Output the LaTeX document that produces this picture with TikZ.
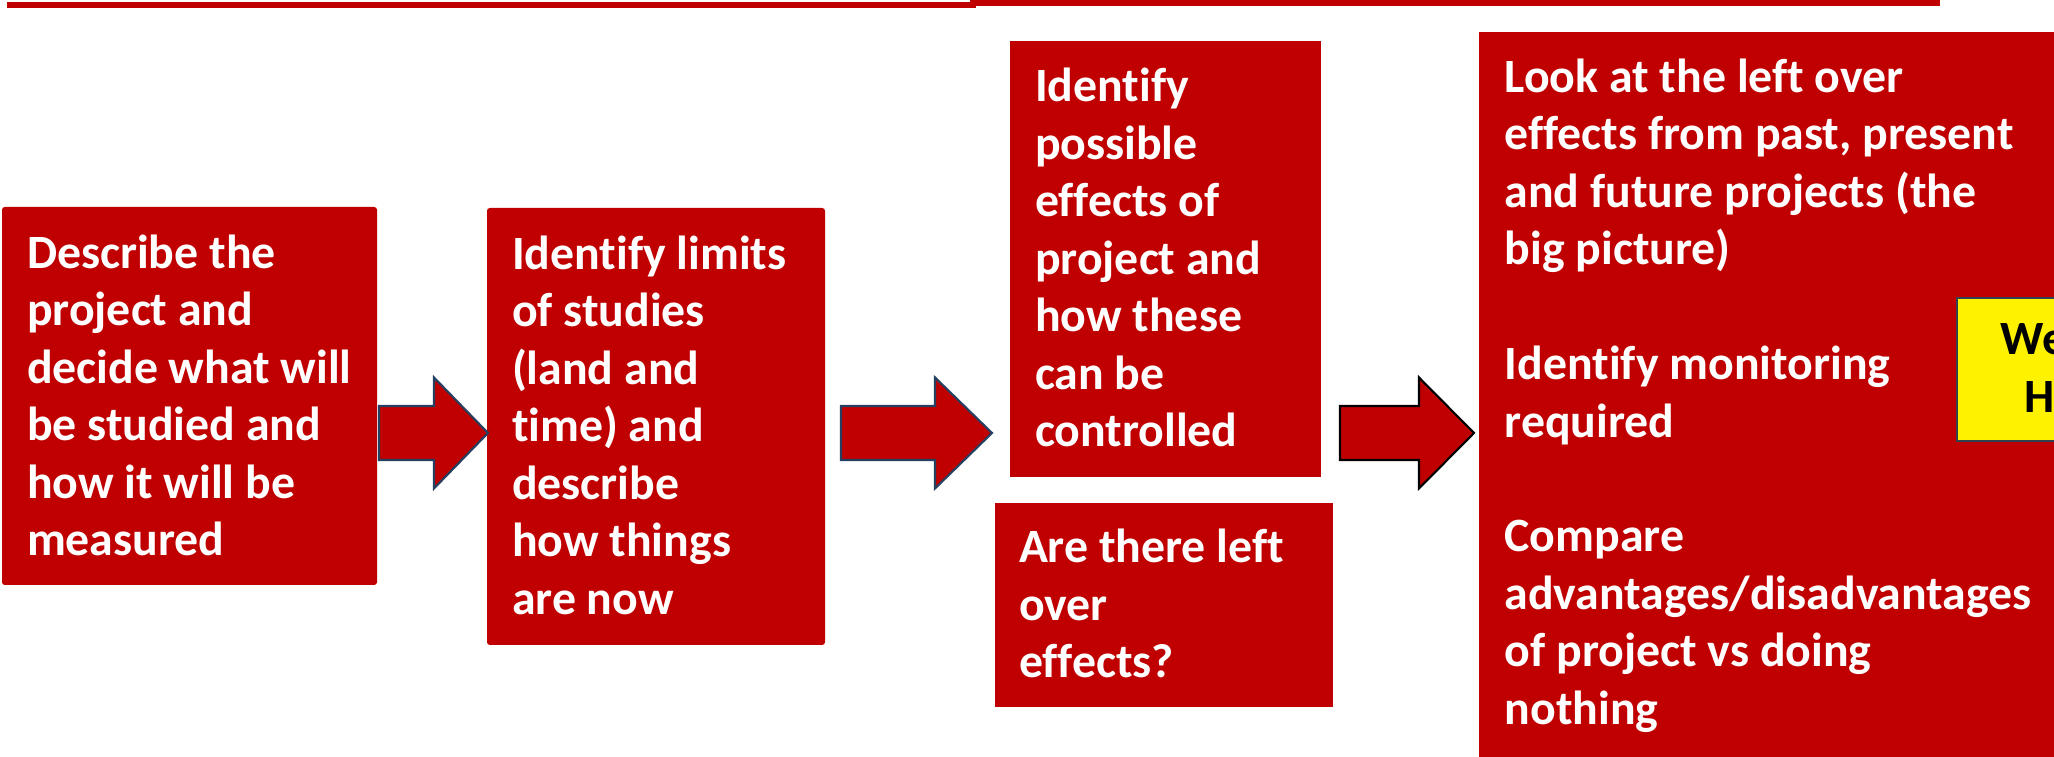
\documentclass[tikz,border=0pt]{standalone}
\usepackage{fontspec}
\setmainfont{Carlito}[Ligatures=NoCommon]
\usepackage{xcolor}
\usetikzlibrary{positioning}

\definecolor{boxred}{RGB}{192,0,0}
\definecolor{edgeblue}{RGB}{37,64,97}
\definecolor{edgeslate}{RGB}{50,64,80}

\begin{document}
\begin{tikzpicture}[
  panel/.style={fill=boxred,inner sep=0pt},
  caption/.style={text=white,align=left,inner sep=0pt,
    font=\bfseries\fontsize{13.6}{16.35}\selectfont,
    execute at begin node=\strut,execute at end node=\strut},
  flow/.style={fill=boxred,line width=.6pt,line join=miter},
  flag/.style={fill=yellow,draw=edgeslate,line width=.6pt,inner sep=0pt}]
  \useasboundingbox (0,0) rectangle (20.54,7.57);
  \clip (0,0) rectangle (20.54,7.57);

  % rules along the top edge
  \fill[boxred] (0.07,7.49) rectangle (9.76,7.55);
  \fill[boxred] (9.70,7.505) rectangle (19.40,7.57);

  % stages
  \node[panel,rounded corners=.8pt,minimum width=3.75cm,minimum height=3.78cm] (describe) at (1.895,3.61) {};
  \node[caption,right=0.25cm of describe.west,yshift=-0.08cm] (describe text)
    {Describe the\\project and\\decide what will\\be studied and\\how it will be\\measured};

  \node[panel,rounded corners=.8pt,minimum width=3.38cm,minimum height=4.37cm] (limits) at (6.56,3.305) {};
  \node[caption,right=0.25cm of limits.west,yshift=-0.07cm] (limits text)
    {Identify limits\\of studies\\(land and\\time) and\\describe\\how things\\are now};

  \node[panel,minimum width=3.11cm,minimum height=4.36cm] (effects) at (11.655,4.98) {};
  \node[caption,right=0.25cm of effects.west,yshift=-0.07cm] (effects text)
    {Identify\\possible\\effects of\\project and\\how these\\can be\\controlled};

  \node[panel,minimum width=3.38cm,minimum height=2.04cm] (leftover) at (11.64,1.52) {};
  \node[caption,right=0.24cm of leftover.west,yshift=-0.07cm] (leftover text)
    {Are there left\\over\\effects?};

  \node[panel,anchor=north west,minimum width=6cm,minimum height=7.6cm] (picture) at (14.78,7.26) {};
  \node[caption,below right=0.27cm and 0.26cm of picture.north west] (picture text)
    {Look at the left over\\effects from past, present\\and future projects (the\\big picture)\\[\baselineskip]
     Identify monitoring\\required\\[\baselineskip]
     Compare\\advantages/disadvantages\\of project vs doing\\nothing};

  \node[flag,anchor=north west,minimum width=2cm,minimum height=1.43cm] (weigh) at (19.56,4.60) {};
  \node[anchor=base west,inner sep=0pt,font=\bfseries\fontsize{13.6}{16.35}\selectfont] (weigh top) at (20.00,4.02) {We};
  \node[anchor=base west,inner sep=0pt,font=\bfseries\fontsize{13.6}{16.35}\selectfont] (weigh bottom) at (20.24,3.44) {H};

  % block arrows between the stages
  \foreach \tail/\base/\tip/\edge in {3.79/4.34/4.88/edgeblue,8.41/9.35/9.92/edgeblue,13.40/14.19/14.74/black}{
    \draw[flow,draw=\edge] (\tail,3.51) -- (\base,3.51) -- (\base,3.795) -- (\tip,3.24)
      -- (\base,2.685) -- (\base,2.97) -- (\tail,2.97) -- cycle;
  }
\end{tikzpicture}
\end{document}
